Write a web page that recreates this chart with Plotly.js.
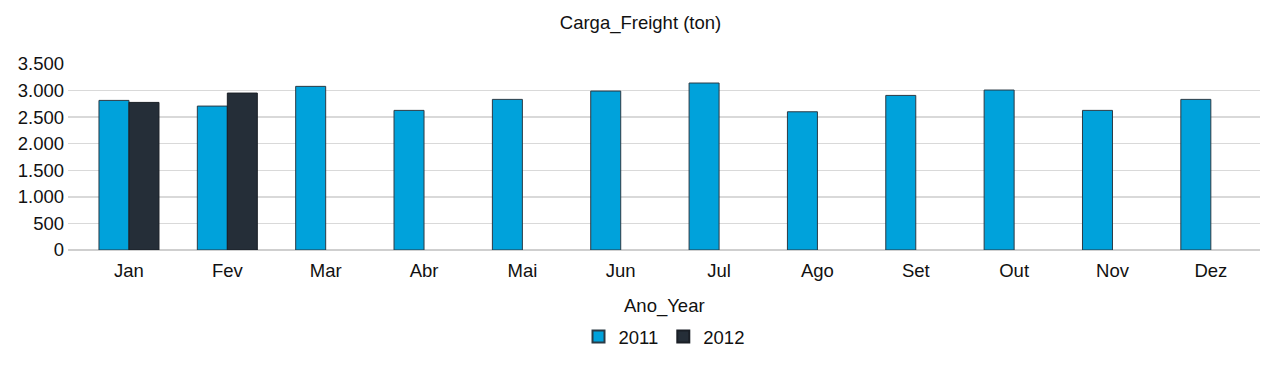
<!DOCTYPE html>
<html>
<head>
<meta charset="utf-8">
<script src="https://cdn.plot.ly/plotly-3.0.1.min.js"></script>
<style>html,body{margin:0;padding:0;background:#fff;}#chart{width:1281px;height:371px;}</style>
</head>
<body>
<div id="chart"></div>
<script>
const months = ["Jan","Fev","Mar","Abr","Mai","Jun","Jul","Ago","Set","Out","Nov","Dez"];
const values2011 = [2815, 2708, 3079, 2627, 2834, 2991, 3142, 2601, 2909, 3010, 2627, 2834];
const months2012 = ["Jan","Fev"];
const values2012 = [2777, 2953];
const yTicks = [0, 500, 1000, 1500, 2000, 2500, 3000, 3500];

const font = "Liberation Sans, Arial, sans-serif";
const fs = 18.5;
const traces = [
  {type:"bar", name:"2011", x:months, y:values2011,
   marker:{color:"#00A2DB", line:{color:"#2b3a45", width:1}}},
  {type:"bar", name:"2012", x:months2012, y:values2012,
   marker:{color:"#252E38", line:{color:"#1a1f26", width:1}}}
];
const layout = {
  width:1281, height:371,
  separators:",.",
  font:{family:font, size:fs, color:"#111"},
  title:{text:"Carga_Freight (ton)", x:0.5, xanchor:"center", y:0.94, yanchor:"middle", font:{family:font, size:fs, color:"#111"}},
  margin:{l:68, r:21, t:64, b:121},
  barmode:"group", bargap:0.39, bargroupgap:0,
  plot_bgcolor:"#fff", paper_bgcolor:"#fff",
  xaxis:{categoryorder:"array", categoryarray:months, range:[-0.62, 11.5],
         showgrid:false, showline:false, ticks:"", ticklabelstandoff:7, tickfont:{family:font, size:fs, color:"#111"}},
  yaxis:{range:[0,3500], tickvals:yTicks, tickformat:",d", showgrid:true, gridcolor:"#d9d9d9", gridwidth:1.3,
         zeroline:true, zerolinecolor:"#cfcfcf", zerolinewidth:1.3, showline:false, ticks:"", ticklen:0,
         ticklabelstandoff:3, tickfont:{family:font, size:fs, color:"#111"}},
  showlegend:true,
  legend:{orientation:"h", x:0.5, xanchor:"center", y:-0.468, yanchor:"middle",
          font:{family:font, size:fs, color:"#111"}, itemsizing:"constant"},
  annotations:[{text:"Ano_Year", xref:"paper", yref:"paper", x:0.5, y:-0.301, xanchor:"center", yanchor:"middle",
                showarrow:false, font:{family:font, size:fs, color:"#111"}}]
};
Plotly.newPlot("chart", traces, layout, {staticPlot:true, displayModeBar:false});
</script>
</body>
</html>
